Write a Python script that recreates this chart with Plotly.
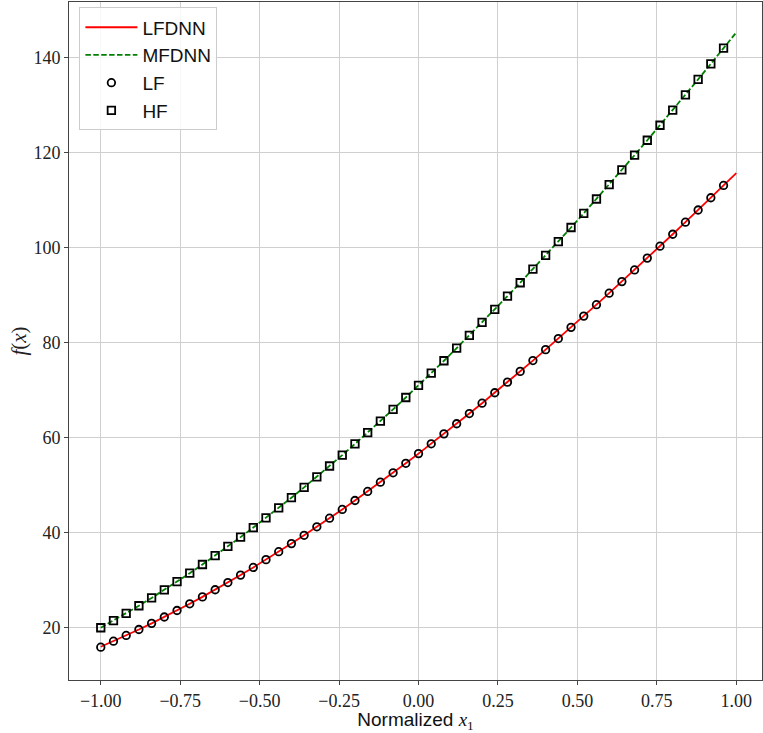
import plotly.graph_objects as go

# ---- data ----
x_line = [-1.00, -0.96, -0.92, -0.88, -0.84, -0.80, -0.76, -0.72, -0.68, -0.64,
          -0.60, -0.56, -0.52, -0.48, -0.44, -0.40, -0.36, -0.32, -0.28, -0.24,
          -0.20, -0.16, -0.12, -0.08, -0.04, 0.00, 0.04, 0.08, 0.12, 0.16,
          0.20, 0.24, 0.28, 0.32, 0.36, 0.40, 0.44, 0.48, 0.52, 0.56,
          0.60, 0.64, 0.68, 0.72, 0.76, 0.80, 0.84, 0.88, 0.92, 0.96, 1.00]

lfdnn = [16.00, 17.17, 18.38, 19.63, 20.92, 22.26, 23.63, 25.04, 26.49, 27.99,
         29.51, 31.08, 32.69, 34.33, 36.00, 37.71, 39.46, 41.24, 43.05, 44.90,
         46.78, 48.69, 50.63, 52.61, 54.61, 56.65, 58.71, 60.81, 62.93, 65.08,
         67.26, 69.46, 71.69, 73.95, 76.23, 78.53, 80.86, 83.22, 85.59, 87.99,
         90.41, 92.85, 95.31, 97.80, 100.30, 102.82, 105.36, 107.92, 110.50, 113.09, 115.70]

mfdnn = [20.00, 21.50, 23.04, 24.63, 26.27, 27.96, 29.70, 31.48, 33.31, 35.19,
         37.11, 39.07, 41.08, 43.13, 45.23, 47.37, 49.55, 51.77, 54.04, 56.34,
         58.69, 61.07, 63.50, 65.96, 68.46, 71.00, 73.58, 76.19, 78.84, 81.53,
         84.25, 87.00, 89.79, 92.61, 95.47, 98.36, 101.28, 104.24, 107.22, 110.24,
         113.28, 116.36, 119.46, 122.60, 125.76, 128.95, 132.17, 135.41, 138.68, 141.98, 145.30]

x_pts = x_line[:50]
lf_pts = [15.90] + lfdnn[1:50]
hf_pts = mfdnn[:50]

x_ticks = [-1.00, -0.75, -0.50, -0.25, 0.00, 0.25, 0.50, 0.75, 1.00]
y_ticks = [20, 40, 60, 80, 100, 120, 140]

serif = "Liberation Serif, DejaVu Serif, serif"
sans = "Liberation Sans, DejaVu Sans, sans-serif"

fig = go.Figure()
fig.add_trace(go.Scatter(x=x_line, y=lfdnn, mode="lines", name="LFDNN",
                         line=dict(color="#ff0000", width=1.8)))
fig.add_trace(go.Scatter(x=x_line, y=mfdnn, mode="lines", name="MFDNN",
                         line=dict(color="#008000", width=1.8, dash="5.5px,2.4px")))
fig.add_trace(go.Scatter(x=x_pts, y=lf_pts, mode="markers", name="LF",
                         marker=dict(symbol="circle-open", size=7.5, color="black",
                                     line=dict(width=1.8))))
fig.add_trace(go.Scatter(x=x_pts, y=hf_pts, mode="markers", name="HF",
                         marker=dict(symbol="square-open", size=7.5, color="black",
                                     line=dict(width=1.8))))

axis_common = dict(
    showgrid=True, gridcolor="#cfcfcf", gridwidth=1,
    showline=True, linecolor="#444444", linewidth=1, mirror=True,
    ticks="outside", ticklen=4, tickcolor="#444444", tickwidth=1,
    tickfont=dict(family=serif, size=18, color="#222222"),
    zeroline=False,
)

fig.update_layout(
    width=763, height=733,
    margin=dict(l=69, r=0, t=2, b=50),
    paper_bgcolor="white", plot_bgcolor="white",
    showlegend=True,
    legend=dict(x=0.015, y=0.992, xanchor="left", yanchor="top",
                bgcolor="rgba(255,255,255,0.85)", bordercolor="#cccccc", borderwidth=1,
                font=dict(family=sans, size=19, color="#111111"),
                itemwidth=52),
    xaxis=dict(range=[-1.1, 1.081], tickmode="array", tickvals=x_ticks,
               tickformat=".2f",
               title=dict(text="Normalized <span style='font-family:Liberation Serif'><i>x</i><sub>1</sub></span>",
                          font=dict(family=sans, size=19, color="#111111"),
                          standoff=9),
               **axis_common),
    yaxis=dict(range=[9.0, 151.7], tickmode="array", tickvals=y_ticks,
               title=dict(text="<i>f</i>(<i>x</i>)",
                          font=dict(family=serif, size=21, color="#222222"),
                          standoff=1),
               **axis_common),
)

fig.write_html("out.html", config={"displayModeBar": False},
               post_script="document.body.style.margin='0';")
